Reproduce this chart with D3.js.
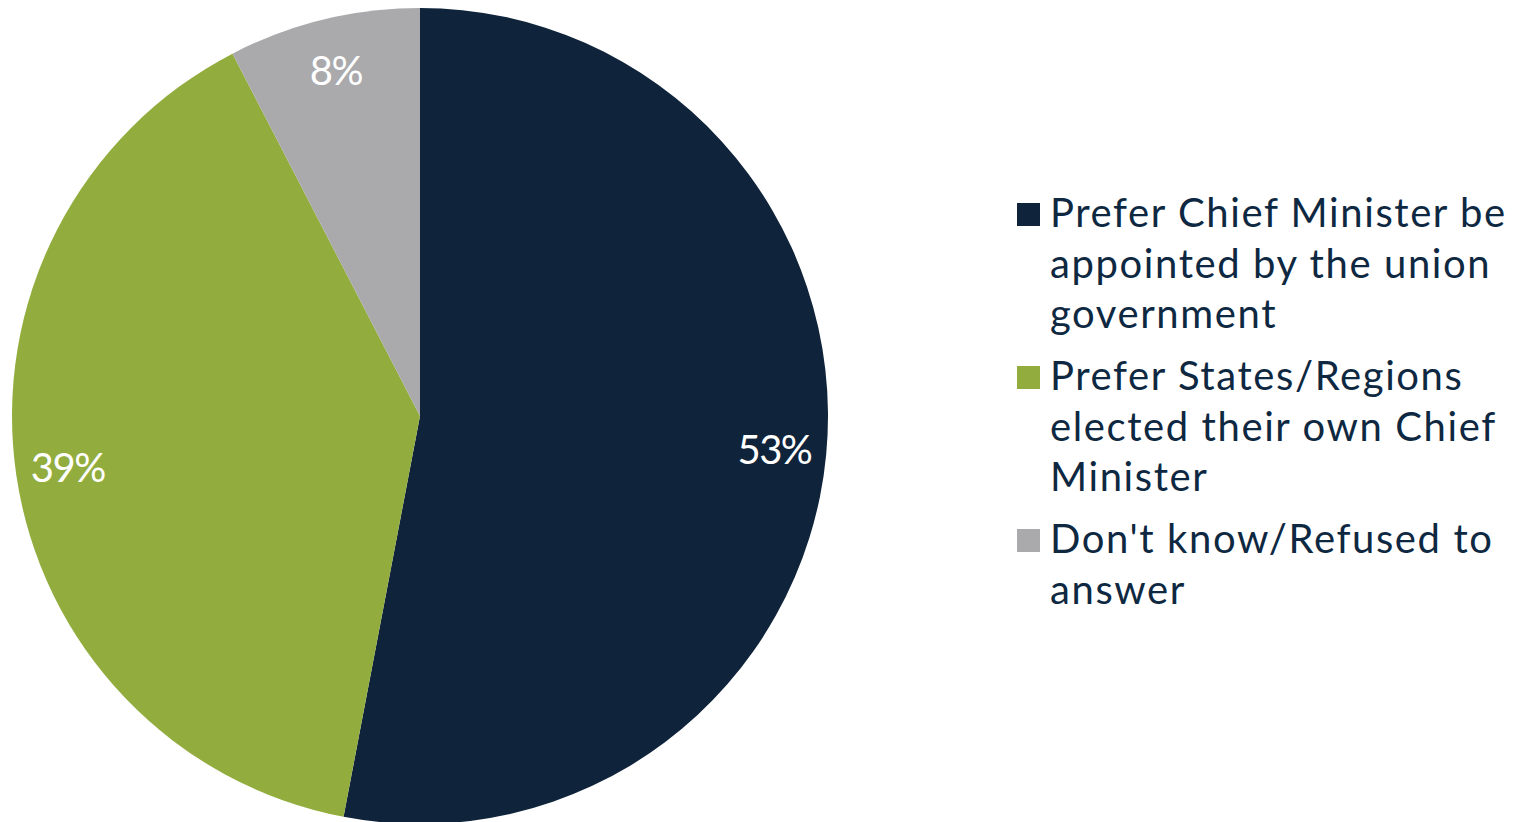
<!DOCTYPE html>
<html>
<head>
<meta charset="utf-8">
<script src="https://cdn.jsdelivr.net/npm/d3@7"></script>
<style>
  html, body { margin: 0; padding: 0; background: #ffffff; }
  svg { display: block; }
</style>
</head>
<body>
<svg id="chart" width="1522" height="822"></svg>
<script>
const categories = [
  "Prefer Chief Minister be appointed by the union government",
  "Prefer States/Regions elected their own Chief Minister",
  "Don't know/Refused to answer"
];
const legendLines = [
  ["Prefer Chief Minister be", "appointed by the union", "government"],
  ["Prefer States/Regions", "elected their own Chief", "Minister"],
  ["Don't know/Refused to", "answer"]
];
const values = [53, 39.4, 7.6];
const labels = ["53%", "39%", "8%"];
const colors = ["#0f233b", "#92ad3e", "#aaaaad"];

const svg = d3.select("#chart");
const cx = 420, cy = 416, r = 408;

const pie = d3.pie().sort(null).value(d => d);
const arcs = pie(values);
const arc = d3.arc().innerRadius(0).outerRadius(r);
const labelArc = d3.arc().innerRadius(712 - r).outerRadius(r);

const g = svg.append("g").attr("transform", `translate(${cx},${cy})`);
g.selectAll("path.slice")
  .data(arcs)
  .join("path")
  .attr("class", "slice")
  .attr("d", arc)
  .attr("fill", (d, i) => colors[i]);

g.selectAll("text.lbl")
  .data(arcs)
  .join("text")
  .attr("class", "lbl")
  .attr("transform", d => {
    const [x, y] = labelArc.centroid(d);
    return `translate(${x},${y})`;
  })
  .attr("text-anchor", "middle")
  .attr("dy", "0.36em")
  .attr("fill", "#ffffff")
  .style("font-family", "Lato, 'Open Sans', sans-serif")
  .style("font-size", "40px")
  .style("letter-spacing", "-1.5px")
  .text((d, i) => labels[i]);

// Legend
const legendX = 1017;
const entryTop = [203, 366, 529];
const lineH = 50.5;
const lg = svg.append("g");
legendLines.forEach((lines, i) => {
  lg.append("rect")
    .attr("x", legendX)
    .attr("y", entryTop[i])
    .attr("width", 23)
    .attr("height", 23)
    .attr("fill", colors[i]);
  const t = lg.append("text")
    .attr("fill", "#0e2841")
    .style("font-family", "Lato, 'Open Sans', sans-serif")
    .style("font-size", "40px")
    .style("letter-spacing", "1.6px");
  lines.forEach((ln, j) => {
    t.append("tspan")
      .attr("x", 1050)
      .attr("y", entryTop[i] + 24 + j * lineH)
      .text(ln);
  });
});
</script>
</body>
</html>
